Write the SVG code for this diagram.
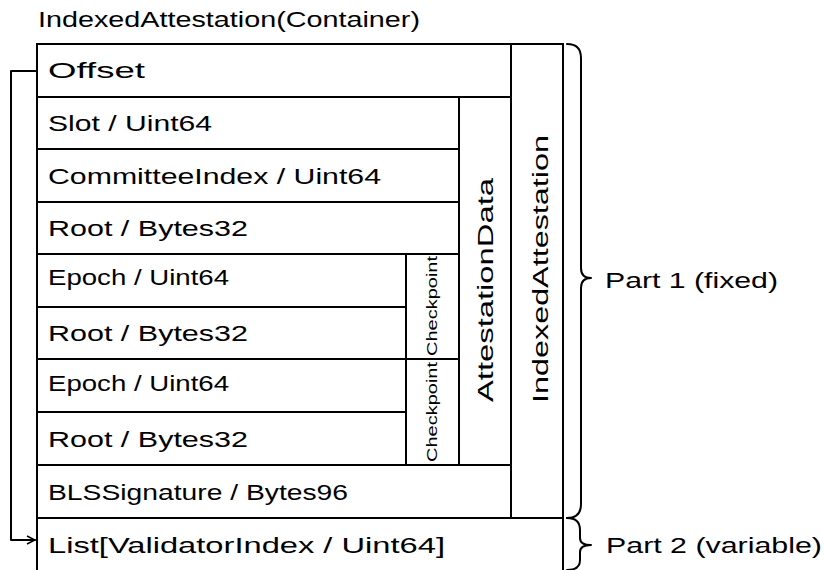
<svg xmlns="http://www.w3.org/2000/svg" width="827" height="570" viewBox="0 0 827 570">
<style>
.b{fill:#fff;stroke:#000;stroke-width:2}
.l{fill:none;stroke:#000;stroke-width:2;stroke-linecap:round;stroke-linejoin:round}
.t{font-family:"Liberation Sans",Arial,sans-serif;font-size:22px;fill:#000}
.s{font-family:"Liberation Sans",Arial,sans-serif;font-size:14px;fill:#000}
</style>
<defs>
<marker id="ar" viewBox="0 0 10 10" refX="9" refY="5" markerWidth="10" markerHeight="10" markerUnits="userSpaceOnUse" orient="auto">
<path d="M1,1 L9,5 L1,9" fill="none" stroke="#000" stroke-width="1.5"/>
</marker>
</defs>
<rect width="827" height="570" fill="#fff"/>
<text class="t" x="38" y="27" textLength="382" lengthAdjust="spacingAndGlyphs">IndexedAttestation(Container)</text>

<g id="list"><rect class="b" x="37" y="518" width="526" height="70"/><text class="t" x="48" y="553" textLength="397" lengthAdjust="spacingAndGlyphs">List[ValidatorIndex / Uint64]</text></g>
<g id="indexedAttestation"><rect class="b" x="511" y="44" width="52" height="474"/><text class="t" transform="translate(540,269) rotate(-90)" text-anchor="middle" dominant-baseline="central" textLength="268" lengthAdjust="spacingAndGlyphs">IndexedAttestation</text></g>
<g id="offset"><rect class="b" x="37" y="44" width="474" height="53"/><text class="t" x="48" y="78" textLength="97" lengthAdjust="spacingAndGlyphs">Offset</text></g>
<g id="attestationData"><rect class="b" x="459" y="97" width="52" height="368"/><text class="t" transform="translate(485,290) rotate(-90)" text-anchor="middle" dominant-baseline="central" textLength="224" lengthAdjust="spacingAndGlyphs">AttestationData</text></g>
<g id="slot"><rect class="b" x="37" y="97" width="422" height="52"/><text class="t" x="48" y="131" textLength="164" lengthAdjust="spacingAndGlyphs">Slot / Uint64</text></g>
<g id="committeeIndex"><rect class="b" x="37" y="149" width="422" height="53"/><text class="t" x="48" y="184" textLength="333" lengthAdjust="spacingAndGlyphs">CommitteeIndex / Uint64</text></g>
<g id="root1"><rect class="b" x="37" y="202" width="422" height="52"/><text class="t" x="48" y="236" textLength="200" lengthAdjust="spacingAndGlyphs">Root / Bytes32</text></g>
<g id="checkpoint1"><rect class="b" x="406" y="254" width="53" height="105"/><text class="s" transform="translate(432,306) rotate(-90)" text-anchor="middle" dominant-baseline="central" textLength="100" lengthAdjust="spacingAndGlyphs">Checkpoint</text></g>
<g id="epoch1"><rect class="b" x="37" y="254" width="369" height="53"/><text class="t" x="48" y="285" textLength="181" lengthAdjust="spacingAndGlyphs">Epoch / Uint64</text></g>
<g id="root2"><rect class="b" x="37" y="307" width="369" height="52"/><text class="t" x="48" y="341" textLength="200" lengthAdjust="spacingAndGlyphs">Root / Bytes32</text></g>
<g id="checkpoint2"><rect class="b" x="406" y="359" width="53" height="106"/><text class="s" transform="translate(432,412) rotate(-90)" text-anchor="middle" dominant-baseline="central" textLength="100" lengthAdjust="spacingAndGlyphs">Checkpoint</text></g>
<g id="epoch2"><rect class="b" x="37" y="359" width="369" height="53"/><text class="t" x="48" y="391" textLength="181" lengthAdjust="spacingAndGlyphs">Epoch / Uint64</text></g>
<g id="root3"><rect class="b" x="37" y="412" width="369" height="53"/><text class="t" x="48" y="447" textLength="200" lengthAdjust="spacingAndGlyphs">Root / Bytes32</text></g>
<g id="blsSignature"><rect class="b" x="37" y="465" width="474" height="53"/><text class="t" x="48" y="500" textLength="300" lengthAdjust="spacingAndGlyphs">BLSSignature / Bytes96</text></g>

<g id="part1"><path class="l" d="M567,44 Q581,44 581,58 L581,268 Q581,278 591,278 Q581,278 581,288 L581,504 Q581,518 567,518"/><text class="t" x="605" y="288" textLength="173" lengthAdjust="spacingAndGlyphs">Part 1 (fixed)</text></g>
<g id="part2"><path class="l" d="M567,518 Q580,518 580,530 L580,538 Q580,545 591,545 Q580,545 580,552 L580,560 Q580,570 567,570"/><text class="t" x="606" y="553" textLength="216" lengthAdjust="spacingAndGlyphs">Part 2 (variable)</text></g>

<g id="connectors"><path class="l" d="M37,71 L11,71 L11,540 L35,540" marker-end="url(#ar)"/></g>
</svg>
